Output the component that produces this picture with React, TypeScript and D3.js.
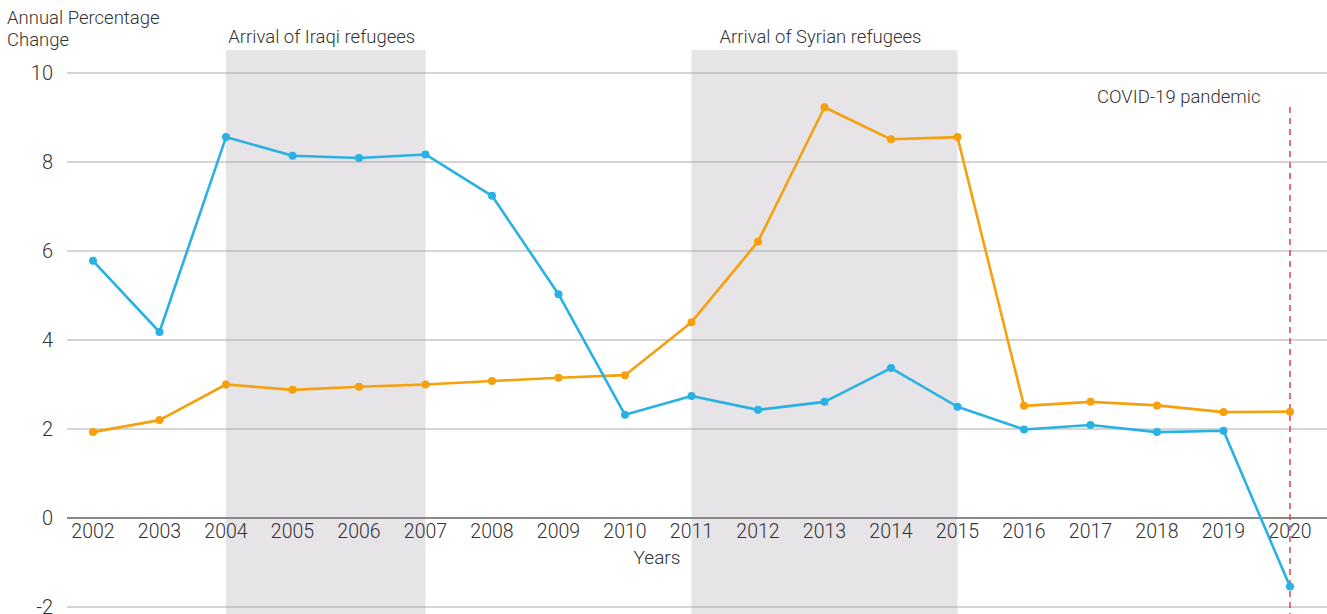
import React from "react";
import * as d3 from "d3";

const years = [2002, 2003, 2004, 2005, 2006, 2007, 2008, 2009, 2010, 2011, 2012, 2013, 2014, 2015, 2016, 2017, 2018, 2019, 2020];
const blueSeries = [5.78, 4.18, 8.56, 8.14, 8.09, 8.17, 7.24, 5.03, 2.32, 2.74, 2.43, 2.61, 3.37, 2.5, 1.99, 2.09, 1.93, 1.96, -1.54];
const orangeSeries = [1.93, 2.2, 3.0, 2.88, 2.95, 3.0, 3.08, 3.15, 3.21, 4.4, 6.21, 9.23, 8.51, 8.56, 2.52, 2.61, 2.53, 2.38, 2.39];
const yTicks = [-2, 0, 2, 4, 6, 8, 10];
const periods = [
  { from: 2004, to: 2007, label: "Arrival of Iraqi refugees" },
  { from: 2011, to: 2015, label: "Arrival of Syrian refugees" },
];
const covidYear = 2020;

const W = 1327;
const H = 614;
const FONT = "Roboto, 'Noto Sans', sans-serif";

export default function App() {
  const x = d3.scaleLinear().domain([2002, 2020]).range([93, 1290]);
  const y = d3.scaleLinear().domain([-2, 10]).range([607, 73]);
  const line = d3
    .line<number>()
    .x((_, i) => x(years[i]))
    .y((d) => y(d));

  const series = [
    { values: orangeSeries, color: "#f5a00c" },
    { values: blueSeries, color: "#29b1e3" },
  ];

  return (
    <svg
      width={W}
      height={H}
      style={{ position: "absolute", left: 0, top: 0, background: "#fff" }}
      fontFamily={FONT}
    >
      {periods.map((p) => (
        <g key={p.label}>
          <rect x={x(p.from)} y={50} width={x(p.to) - x(p.from)} height={H - 50} fill="#e6e4e6" />
          <text
            x={(x(p.from) + x(p.to)) / 2 - 4}
            y={43}
            textAnchor="middle"
            fontSize={18.5}
            fontWeight={300}
            fill="#333"
          >
            {p.label}
          </text>
        </g>
      ))}
      {yTicks.map((t) => (
        <g key={t}>
          {t !== 0 && (
            <line x1={67} x2={W} y1={y(t)} y2={y(t)} stroke="#aaaaaa" strokeWidth={1} />
          )}
          <text
            x={53}
            y={y(t)}
            dy="0.35em"
            textAnchor="end"
            fontSize={20}
            fontWeight={300}
            fill="#333"
          >
            {t}
          </text>
        </g>
      ))}
      <line x1={67} x2={W} y1={y(0)} y2={y(0)} stroke="#888" strokeWidth={2.2} />
      {years.map((yr) => (
        <text
          key={yr}
          x={x(yr)}
          y={538}
          textAnchor="middle"
          fontSize={19.5}
          fontWeight={300}
          fill="#333"
        >
          {yr}
        </text>
      ))}
      <text x={657} y={564} textAnchor="middle" fontSize={19} fontWeight={300} fill="#333">
        Years
      </text>
      <text x={7} y={24} fontSize={18.5} fontWeight={300} fill="#333">
        Annual Percentage
      </text>
      <text x={7} y={46} fontSize={18.5} fontWeight={300} fill="#333">
        Change
      </text>
      <line
        x1={x(covidYear)}
        x2={x(covidYear)}
        y1={107}
        y2={H}
        stroke="#d9454a"
        strokeWidth={1.5}
        strokeDasharray="6 5"
      />
      <text x={1097} y={103} fontSize={18.5} fontWeight={300} fill="#333">
        COVID-19 pandemic
      </text>
      {series.map((s, si) => (
        <g key={si}>
          <path d={line(s.values) || ""} fill="none" stroke={s.color} strokeWidth={2.6} strokeLinejoin="round" />
          {s.values.map((v, i) => (
            <circle key={i} cx={x(years[i])} cy={y(v)} r={4} fill={s.color} />
          ))}
        </g>
      ))}
    </svg>
  );
}
